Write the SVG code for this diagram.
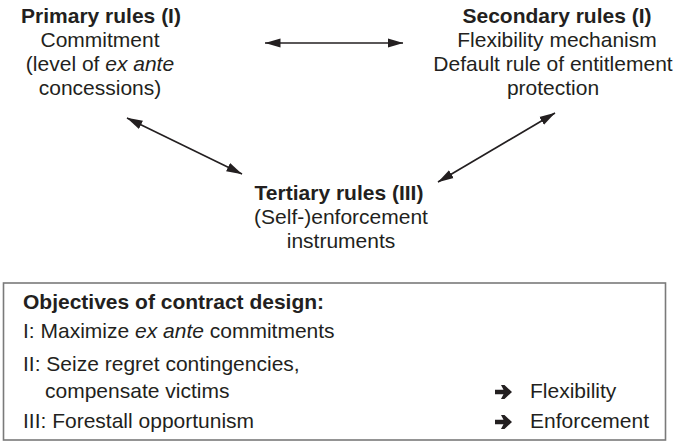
<svg xmlns="http://www.w3.org/2000/svg" width="680" height="443" viewBox="0 0 680 443">
  <style>
    text { font-family: "Liberation Sans", Arial, Helvetica, sans-serif; font-size: 21px; fill: #231f20; }
    .c { text-anchor: middle; }
    .b { font-weight: bold; }
    .i { font-style: italic; }
    .link { stroke: #231f20; stroke-width: 1.6; fill: none; marker-start: url(#head); marker-end: url(#head); }
    .frame { fill: #ffffff; stroke: #7a7a7a; stroke-width: 1.6; }
    .bullet { fill: #231f20; }
  </style>
  <defs>
    <marker id="head" markerUnits="userSpaceOnUse" markerWidth="16" markerHeight="10" viewBox="0 0 16 10" refX="15.5" refY="5" orient="auto-start-reverse">
      <path d="M0,0.4 L15.8,5 L0,9.6 Z" fill="#231f20"/>
    </marker>
    <path id="fatArrow" d="M0,-2.3 H8.5 L6,-7 H9.5 L17,0 L9.5,7 H6 L8.5,2.3 H0 Z"/>
  </defs>

  <rect width="680" height="443" fill="#ffffff"/>

  <!-- rule nodes -->
  <g id="primary">
    <text class="c b" x="101" y="23">Primary rules (I)</text>
    <text class="c" x="100" y="47">Commitment</text>
    <text class="c" x="100" y="71">(level of <tspan class="i">ex ante</tspan></text>
    <text class="c" x="100" y="95">concessions)</text>
  </g>

  <g id="secondary">
    <text class="c b" x="557" y="23">Secondary rules (I)</text>
    <text class="c" x="557" y="47">Flexibility mechanism</text>
    <text class="c" x="553" y="71">Default rule of entitlement</text>
    <text class="c" x="553" y="95">protection</text>
  </g>

  <g id="tertiary">
    <text class="c b" x="339" y="200">Tertiary rules (III)</text>
    <text class="c" x="341" y="224">(Self-)enforcement</text>
    <text class="c" x="341" y="248">instruments</text>
  </g>

  <!-- connectors -->
  <g id="connectors">
    <line class="link" x1="265" y1="43" x2="403" y2="43"/>
    <line class="link" x1="127" y1="118" x2="242" y2="174"/>
    <line class="link" x1="555" y1="113" x2="438" y2="182"/>
  </g>

  <!-- objectives panel -->
  <g id="objectives">
    <rect class="frame" x="3.5" y="283" width="662" height="157"/>
    <text class="b" x="23" y="309">Objectives of contract design:</text>
    <text x="23" y="338">I: Maximize <tspan class="i">ex ante</tspan> commitments</text>
    <text x="23" y="371">II: Seize regret contingencies,</text>
    <text x="45" y="398">compensate victims</text>
    <text x="23" y="428">III: Forestall opportunism</text>
    <use class="bullet" href="#fatArrow" x="495" y="392"/>
    <text x="530" y="398">Flexibility</text>
    <use class="bullet" href="#fatArrow" x="495" y="422"/>
    <text x="530" y="428">Enforcement</text>
  </g>
</svg>
